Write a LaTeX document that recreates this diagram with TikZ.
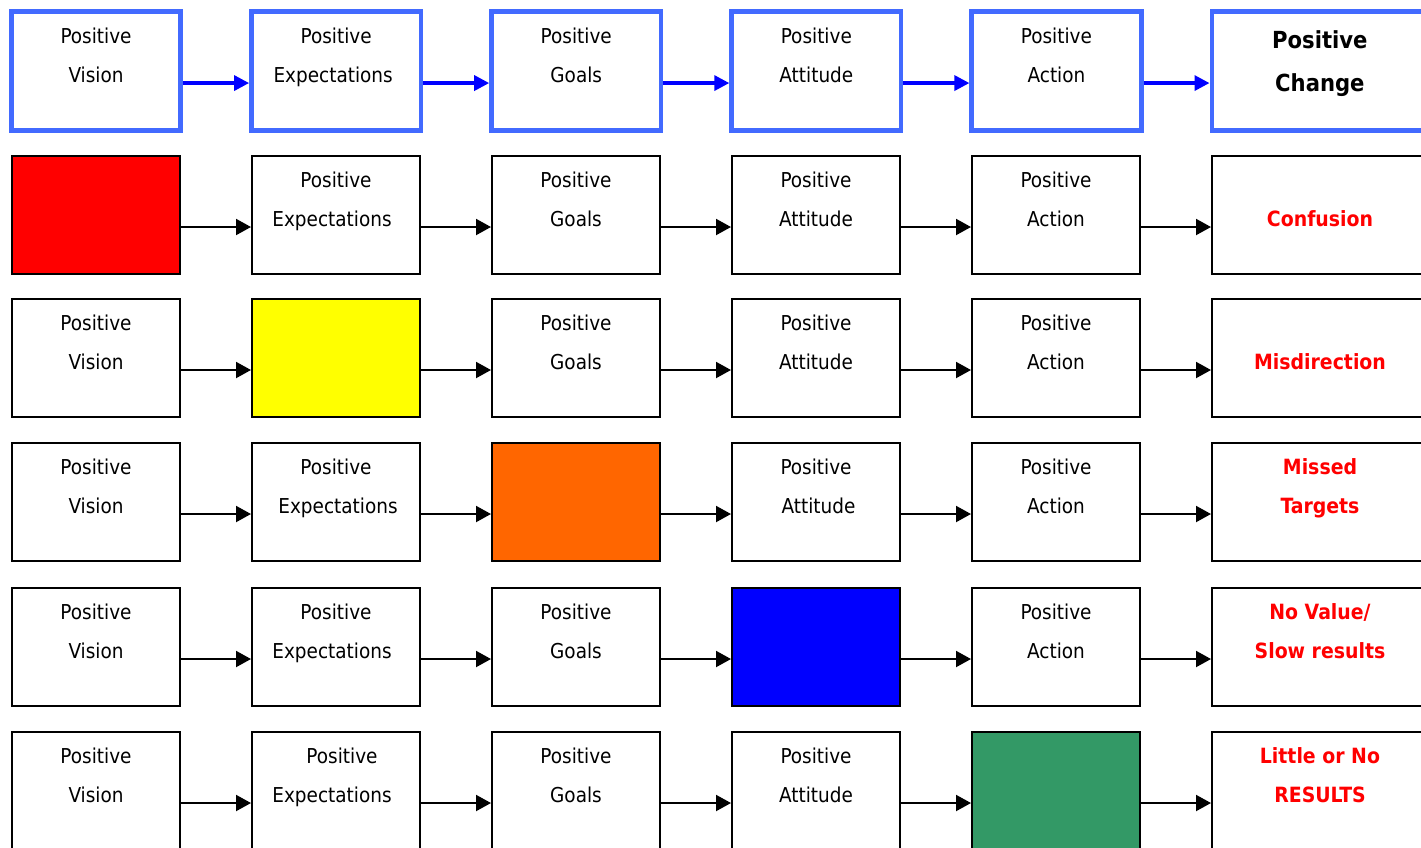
\documentclass[tikz,border=0pt]{standalone}
\usepackage{fontspec}
\setmainfont{DejaVu Sans Condensed}
\usepackage{xcolor}
\usepackage{tikz}
\usetikzlibrary{positioning, arrows.meta}
\definecolor{frameblue}{RGB}{66,106,255}
\definecolor{flowblue}{RGB}{0,0,255}
\definecolor{missred}{RGB}{255,0,0}
\definecolor{missyellow}{RGB}{255,255,0}
\definecolor{missorange}{RGB}{255,102,0}
\definecolor{missblue}{RGB}{0,0,255}
\definecolor{missgreen}{RGB}{51,153,102}
\tikzset{
    stage/.style={rectangle, draw=black, line width=2pt, fill=white, minimum width=168pt, minimum height=118pt, inner sep=0pt},
    ideal/.style={stage, draw=frameblue, line width=4.7pt, minimum width=169.4pt, minimum height=119.4pt},
    outcome/.style={minimum width=216pt},
    gap/.style={stage, fill=#1},
    word/.style={anchor=base, inner sep=0pt, font=\fontsize{20.5pt}{24pt}\selectfont},
    headline/.style={anchor=base, inner sep=0pt, font=\fontsize{23.5pt}{28pt}\selectfont\bfseries},
    failure/.style={anchor=base, inner sep=0pt, text=missred, font=\fontsize{21pt}{25pt}\selectfont\bfseries},
    arrow/.style={-{Triangle[length=15pt, width=16pt]}, line width=2pt},
    idealarrow/.style={-{Triangle[length=15pt, width=15pt]}, line width=3.3pt, draw=flowblue}
}
% two text lines in a box: [options of lower line]{box}{upper}{lower}
\newcommand{\stagetext}[4][]{%
    \node[word] (#2-top) at ([yshift=27.5pt]#2.center) {#3};
    \node[word, #1] (#2-bot) at ([yshift=-11pt]#2.center) {#4};
}

\begin{document}
\begin{tikzpicture}[x=1pt, y=-1pt, node distance=70pt]
    \useasboundingbox (0,0) rectangle (1421,847);
    \clip (0,0) rectangle (1421,847);

    % row 1: the full chain
    \node[ideal, anchor=north west] (vis1) at (9,9) {};
    \node[ideal, right=66pt of vis1] (exp1) {};
    \node[ideal, right=66pt of exp1] (goal1) {};
    \node[ideal, right=66pt of goal1] (att1) {};
    \node[ideal, right=66pt of att1] (act1) {};
    \node[ideal, outcome, right=66pt of act1] (res1) {};
    \stagetext{vis1}{Positive}{Vision}
    \stagetext[xshift=-3pt]{exp1}{Positive}{Expectations}
    \stagetext{goal1}{Positive}{Goals}
    \stagetext{att1}{Positive}{Attitude}
    \stagetext{act1}{Positive}{Action}
    \node[headline] (res1-top) at ([yshift=22.7pt]res1.center) {Positive};
    \node[headline] (res1-bot) at ([yshift=-20.7pt]res1.center) {Change};

    % row 2: no vision
    \node[gap=missred, anchor=north west] (vis2) at (11,155) {};
    \node[stage, right=of vis2] (exp2) {};
    \node[stage, right=of exp2] (goal2) {};
    \node[stage, right=of goal2] (att2) {};
    \node[stage, right=of att2] (act2) {};
    \node[stage, outcome, right=of act2] (res2) {};
    \stagetext[xshift=-4pt]{exp2}{Positive}{Expectations}
    \stagetext{goal2}{Positive}{Goals}
    \stagetext{att2}{Positive}{Attitude}
    \stagetext{act2}{Positive}{Action}
    \node[failure] (res2-bot) at ([yshift=-11pt]res2.center) {Confusion};

    % row 3: no expectations
    \node[stage, anchor=north west] (vis3) at (11,298) {};
    \node[gap=missyellow, right=of vis3] (exp3) {};
    \node[stage, right=of exp3] (goal3) {};
    \node[stage, right=of goal3] (att3) {};
    \node[stage, right=of att3] (act3) {};
    \node[stage, outcome, right=of act3] (res3) {};
    \stagetext{vis3}{Positive}{Vision}
    \stagetext{goal3}{Positive}{Goals}
    \stagetext{att3}{Positive}{Attitude}
    \stagetext{act3}{Positive}{Action}
    \node[failure] (res3-bot) at ([yshift=-11pt]res3.center) {Misdirection};

    % row 4: no goals
    \node[stage, anchor=north west] (vis4) at (11,442) {};
    \node[stage, right=of vis4] (exp4) {};
    \node[gap=missorange, right=of exp4] (goal4) {};
    \node[stage, right=of goal4] (att4) {};
    \node[stage, right=of att4] (act4) {};
    \node[stage, outcome, right=of act4] (res4) {};
    \stagetext{vis4}{Positive}{Vision}
    \stagetext[xshift=2pt]{exp4}{Positive}{Expectations}
    \stagetext[xshift=2.5pt]{att4}{Positive}{Attitude}
    \stagetext{act4}{Positive}{Action}
    \node[failure] (res4-top) at ([yshift=27.5pt]res4.center) {Missed};
    \node[failure] (res4-bot) at ([yshift=-11pt]res4.center) {Targets};

    % row 5: no attitude
    \node[stage, anchor=north west] (vis5) at (11,587) {};
    \node[stage, right=of vis5] (exp5) {};
    \node[stage, right=of exp5] (goal5) {};
    \node[gap=missblue, right=of goal5] (att5) {};
    \node[stage, right=of att5] (act5) {};
    \node[stage, outcome, right=of act5] (res5) {};
    \stagetext{vis5}{Positive}{Vision}
    \stagetext[xshift=-4pt]{exp5}{Positive}{Expectations}
    \stagetext{goal5}{Positive}{Goals}
    \stagetext{act5}{Positive}{Action}
    \node[failure] (res5-top) at ([yshift=27.5pt]res5.center) {No Value/};
    \node[failure] (res5-bot) at ([yshift=-11pt]res5.center) {Slow results};

    % row 6: no action
    \node[stage, anchor=north west] (vis6) at (11,731) {};
    \node[stage, right=of vis6] (exp6) {};
    \node[stage, right=of exp6] (goal6) {};
    \node[stage, right=of goal6] (att6) {};
    \node[gap=missgreen, right=of att6] (act6) {};
    \node[stage, outcome, right=of act6] (res6) {};
    \stagetext{vis6}{Positive}{Vision}
    \node[word] (exp6-top) at ([xshift=6pt, yshift=27.5pt]exp6.center) {Positive};
    \node[word] (exp6-bot) at ([xshift=-4pt, yshift=-11pt]exp6.center) {Expectations};
    \stagetext{goal6}{Positive}{Goals}
    \stagetext{att6}{Positive}{Attitude}
    \node[failure] (res6-top) at ([yshift=27.5pt]res6.center) {Little or No};
    \node[failure] (res6-bot) at ([yshift=-11pt]res6.center) {RESULTS};

    % connectors
    \draw[idealarrow] ([yshift=-12pt]vis1.east) -- ([yshift=-12pt]exp1.west);
    \draw[idealarrow] ([yshift=-12pt]exp1.east) -- ([yshift=-12pt]goal1.west);
    \draw[idealarrow] ([yshift=-12pt]goal1.east) -- ([yshift=-12pt]att1.west);
    \draw[idealarrow] ([yshift=-12pt]att1.east) -- ([yshift=-12pt]act1.west);
    \draw[idealarrow] ([yshift=-12pt]act1.east) -- ([yshift=-12pt]res1.west);
    \foreach \r in {2,...,6} {
        \draw[arrow] ([yshift=-12pt]vis\r.east) -- ([yshift=-12pt]exp\r.west);
        \draw[arrow] ([yshift=-12pt]exp\r.east) -- ([yshift=-12pt]goal\r.west);
        \draw[arrow] ([yshift=-12pt]goal\r.east) -- ([yshift=-12pt]att\r.west);
        \draw[arrow] ([yshift=-12pt]att\r.east) -- ([yshift=-12pt]act\r.west);
        \draw[arrow] ([yshift=-12pt]act\r.east) -- ([yshift=-12pt]res\r.west);
    }
\end{tikzpicture}
\end{document}
